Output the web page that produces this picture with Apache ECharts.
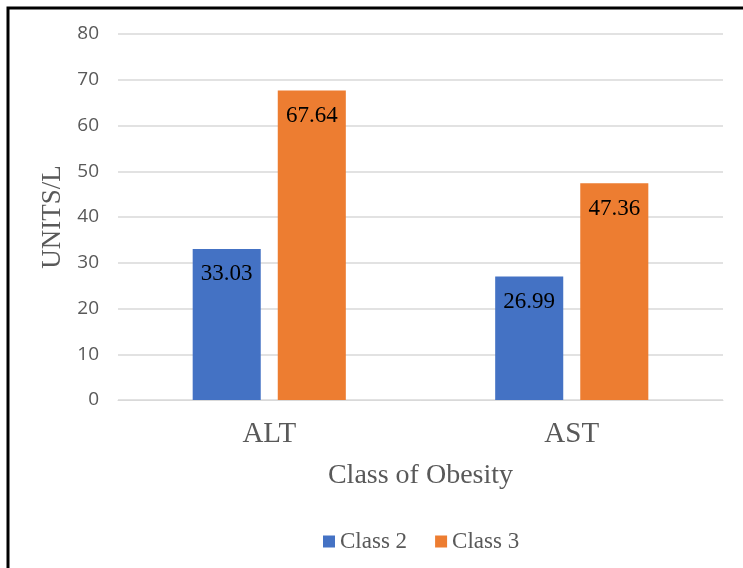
<!DOCTYPE html>
<html>
<head>
<meta charset="utf-8">
<script src="https://cdn.jsdelivr.net/npm/echarts@6/dist/echarts.min.js"></script>
<style>
  html, body { margin: 0; padding: 0; background: #fff; }
  #chart { width: 743px; height: 568px; }
</style>
</head>
<body>
<div id="chart"></div>
<script>
// Liver enzyme levels by obesity class
const categories = ['ALT', 'AST'];
const seriesNames = ['Class 2', 'Class 3'];
const class2Values = [33.03, 26.99];
const class3Values = [67.64, 47.36];
const yTicks = { min: 0, max: 80, interval: 10 };

const serif = '"Liberation Serif", "Times New Roman", serif';
const sans = '"Open Sans", "Liberation Sans", sans-serif';

const chart = echarts.init(document.getElementById('chart'));

const labelStyle = {
  show: true,
  position: 'insideTop',
  distance: 14,
  color: '#000',
  fontFamily: serif,
  fontSize: 23,
  formatter: p => p.value.toFixed(2)
};

chart.setOption({
  animation: false,
  graphic: [{
    type: 'rect',
    shape: { x: 8, y: 8, width: 760, height: 600 },
    style: { fill: 'none', stroke: '#000', lineWidth: 3 },
    silent: true
  }],
  grid: { left: 118, right: 20, top: 34, bottom: 168 },
  legend: {
    bottom: 10,
    left: 318,
    itemWidth: 12,
    itemHeight: 12,
    itemGap: 28,
    icon: 'rect',
    textStyle: { fontFamily: serif, fontSize: 23, color: '#595959' },
    data: seriesNames
  },
  xAxis: {
    type: 'category',
    data: categories,
    name: 'Class of Obesity',
    nameLocation: 'middle',
    nameGap: 62,
    nameTextStyle: { fontFamily: serif, fontSize: 28, color: '#595959' },
    axisLine: { show: true, lineStyle: { color: '#d9d9d9', width: 1 } },
    axisTick: { show: false },
    axisLabel: { fontFamily: serif, fontSize: 29, color: '#595959', margin: 20 }
  },
  yAxis: {
    type: 'value',
    min: yTicks.min,
    max: yTicks.max,
    interval: yTicks.interval,
    name: 'UNITS/L',
    nameLocation: 'middle',
    nameGap: 47,
    nameTextStyle: { fontFamily: serif, fontSize: 27, color: '#595959' },
    axisLine: { show: false },
    axisTick: { show: false },
    axisLabel: { fontFamily: sans, fontSize: 19, color: '#595959', margin: 19 },
    splitLine: { lineStyle: { color: '#d9d9d9', width: 1.5 } }
  },
  series: [
    {
      name: seriesNames[0],
      type: 'bar',
      data: class2Values,
      barWidth: '22.5%',
      barGap: '25%',
      itemStyle: { color: '#4472C4' },
      label: labelStyle
    },
    {
      name: seriesNames[1],
      type: 'bar',
      data: class3Values,
      barWidth: '22.5%',
      barGap: '25%',
      itemStyle: { color: '#ED7D31' },
      label: labelStyle
    }
  ]
});
</script>
</body>
</html>
